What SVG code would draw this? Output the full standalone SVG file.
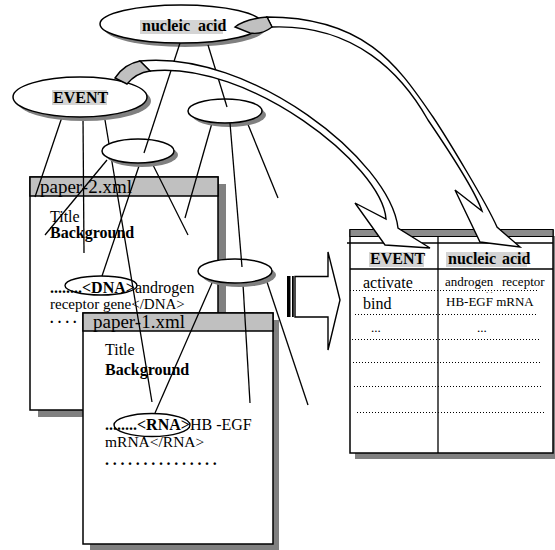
<svg xmlns="http://www.w3.org/2000/svg" width="555" height="550" viewBox="0 0 555 550">
<style>
.ln{stroke:#000;stroke-width:1.3;fill:none}
.bx{fill:#fff;stroke:#000;stroke-width:1.5}
.hd{fill:#c0c0c0;stroke:#000;stroke-width:1.5}
.sh{fill:#808080}
.el{fill:#fff;stroke:#000;stroke-width:1.5}
.hl{fill:#d4d4d4}
.t{font-family:"Liberation Serif","Times New Roman",serif;fill:#000}
.b{font-weight:bold}
.dot{stroke:#000;stroke-width:1;stroke-dasharray:1 2;fill:none}
.arw{fill:#fff;stroke:#000;stroke-width:1.4;stroke-linejoin:miter}
.tail{fill:#c0c0c0;stroke:#000;stroke-width:1.4}
</style>
<g id="paper-2">
<rect class="sh" x="38" y="184" width="188" height="233"/>
<rect class="bx" x="30" y="177" width="188" height="233"/>
<rect class="hd" x="30" y="177" width="188" height="19"/>
<text class="t" x="40" y="193" font-size="19">paper-2.xml</text>
<text class="t" x="50" y="222" font-size="16">Title</text>
<text class="t b" x="50" y="238" font-size="16">Background</text>
<text class="t" x="50" y="293" font-size="16"><tspan class="b">........&lt;DNA&gt;</tspan>androgen</text>
<text class="t" x="50" y="309" font-size="15">receptor gene&lt;/DNA&gt;</text>
<text class="t b" x="50" y="323" font-size="14" letter-spacing="4.2">....</text>
<ellipse cx="101" cy="285.5" rx="36" ry="9.5" fill="none" stroke="#000" stroke-width="1.4"/>
</g>
<g id="paper-1">
<rect class="sh" x="90" y="320" width="189" height="230"/>
<rect class="bx" x="83" y="313" width="190" height="231"/>
<rect class="hd" x="83" y="313" width="190" height="18"/>
<text class="t" x="93" y="328" font-size="19">paper-1.xml</text>
<text class="t" x="105" y="355" font-size="16">Title</text>
<text class="t b" x="105" y="375" font-size="16">Background</text>
<text class="t" x="105" y="430" font-size="16"><tspan class="b">........&lt;RNA&gt;</tspan>HB -EGF</text>
<text class="t" x="105" y="447" font-size="15.5">mRNA&lt;/RNA&gt;</text>
<text class="t b" x="105" y="465" font-size="16" letter-spacing="3.7">...............</text>
<ellipse cx="152" cy="425" rx="38" ry="11.5" fill="none" stroke="#000" stroke-width="1.4"/>
</g>
<g id="table">
<rect class="sh" x="355" y="236" width="201" height="223"/>
<rect class="bx" x="350" y="230" width="203" height="223"/>
<rect x="350" y="229.5" width="203" height="7" fill="#8c8c8c" stroke="#000" stroke-width="1"/>
<line class="ln" x1="347" y1="243" x2="553" y2="243"/>
<line class="ln" x1="350" y1="269" x2="553" y2="269"/>
<line class="ln" x1="438" y1="236" x2="438" y2="453"/>
<rect class="hl" x="369" y="252" width="55" height="15"/>
<text class="t b" x="370" y="264" font-size="16">EVENT</text>
<rect class="hl" x="446" y="252" width="81" height="15"/>
<text class="t b" x="448" y="264" font-size="16" word-spacing="2">nucleic acid</text>
<text class="t" x="363" y="288" font-size="16">activate</text>
<text class="t" x="445" y="286" font-size="13">androgen <tspan x="502">receptor</tspan><tspan x="486" dy="7" font-size="9">. .</tspan></text>
<text class="t" x="363" y="309" font-size="16">bind</text>
<text class="t" x="446" y="306" font-size="13">HB-EGF mRNA</text>
<text class="t" x="371" y="332" font-size="13">...</text>
<text class="t" x="477" y="332" font-size="13">...</text>
<line class="dot" x1="350" y1="290.5" x2="537" y2="290.5"/>
<line class="dot" x1="355" y1="314.5" x2="537" y2="314.5"/>
<line class="dot" x1="352" y1="339.5" x2="541" y2="339.5"/>
<line class="dot" x1="353" y1="362.5" x2="542" y2="362.5"/>
<line class="dot" x1="354" y1="386.5" x2="542" y2="386.5"/>
<line class="dot" x1="357" y1="412.5" x2="545" y2="412.5"/>
</g>
<g id="block-arrow">
<rect x="287" y="276" width="3.5" height="41" fill="#000"/>
<rect x="292" y="276" width="1.8" height="41" fill="#000"/>
<path class="arw" d="M295,276.5 L328,276.5 L328,252 L340,300 L328,350 L328,317 L295,317 Z"/>
</g>
<g id="connectors">
<line class="ln" x1="62" y1="117" x2="35" y2="197"/>
<line class="ln" x1="83" y1="117" x2="84" y2="253"/>
<line class="ln" x1="105" y1="120" x2="152" y2="402"/>
<line class="ln" x1="107" y1="160" x2="45" y2="235"/>
<line class="ln" x1="140" y1="163" x2="102" y2="276"/>
<line class="ln" x1="152" y1="163" x2="188" y2="235"/>
<line class="ln" x1="212" y1="123" x2="185" y2="218"/>
<line class="ln" x1="247" y1="122" x2="278" y2="198"/>
<line class="ln" x1="212" y1="283" x2="155" y2="413"/>
<line class="ln" x1="243" y1="284" x2="250" y2="403"/>
<line class="ln" x1="267" y1="282" x2="308" y2="405"/>
</g>
<g id="node-nucleic-acid">
<ellipse class="sh" cx="185" cy="28" rx="81" ry="19"/>
<ellipse class="el" cx="181" cy="24" rx="81" ry="19"/>
<rect class="hl" x="140" y="20" width="83" height="14"/>
<text class="t b" x="142" y="31" font-size="16" word-spacing="4">nucleic acid</text>
</g>
<g id="node-event">
<ellipse class="sh" cx="84" cy="101" rx="67" ry="20"/>
<ellipse class="el" cx="80" cy="97" rx="67" ry="20"/>
<rect class="hl" x="52" y="90" width="55" height="15"/>
<text class="t b" x="53" y="103" font-size="16">EVENT</text>
</g>
<g id="node-e1">
<ellipse class="sh" cx="142" cy="155" rx="36" ry="12"/>
<ellipse class="el" cx="138" cy="151" rx="36" ry="12"/>
</g>
<g id="node-e2">
<ellipse class="sh" cx="229" cy="115" rx="37" ry="12"/>
<ellipse class="el" cx="225" cy="111" rx="37" ry="12"/>
</g>
<g id="node-e3">
<ellipse class="sh" cx="239" cy="275" rx="37" ry="12"/>
<ellipse class="el" cx="235" cy="271" rx="37" ry="12"/>
</g>
<g id="connectors-top">
<line class="ln" x1="180" y1="43" x2="144" y2="153"/>
<line class="ln" x1="208" y1="45" x2="227" y2="107"/>
<line class="ln" x1="230" y1="123" x2="242" y2="267"/>
</g>
<g id="curved-arrows">
<path class="arw" d="M140,61 C250,50 390,160 398,228 L430,248 L385,245 L355,203 L386,219 C382,165 248,60 150,71 Z"/>
<path class="tail" d="M115,78 Q124,64 140,61 L150,71 Q136,73 127,84 Z"/>
<path class="arw" d="M267,17 C367,17 399,68 433,117 C447,138 487,204 497,227 L520,247 L480,242 L455,190 L482,211 C475,190 445,145 428,120 C402,74 355,24 272,27 Z"/>
<path class="tail" d="M235,27 Q245,19 267,17 L272,27 Q262,35 250,33 Z"/>
</g>
</svg>
